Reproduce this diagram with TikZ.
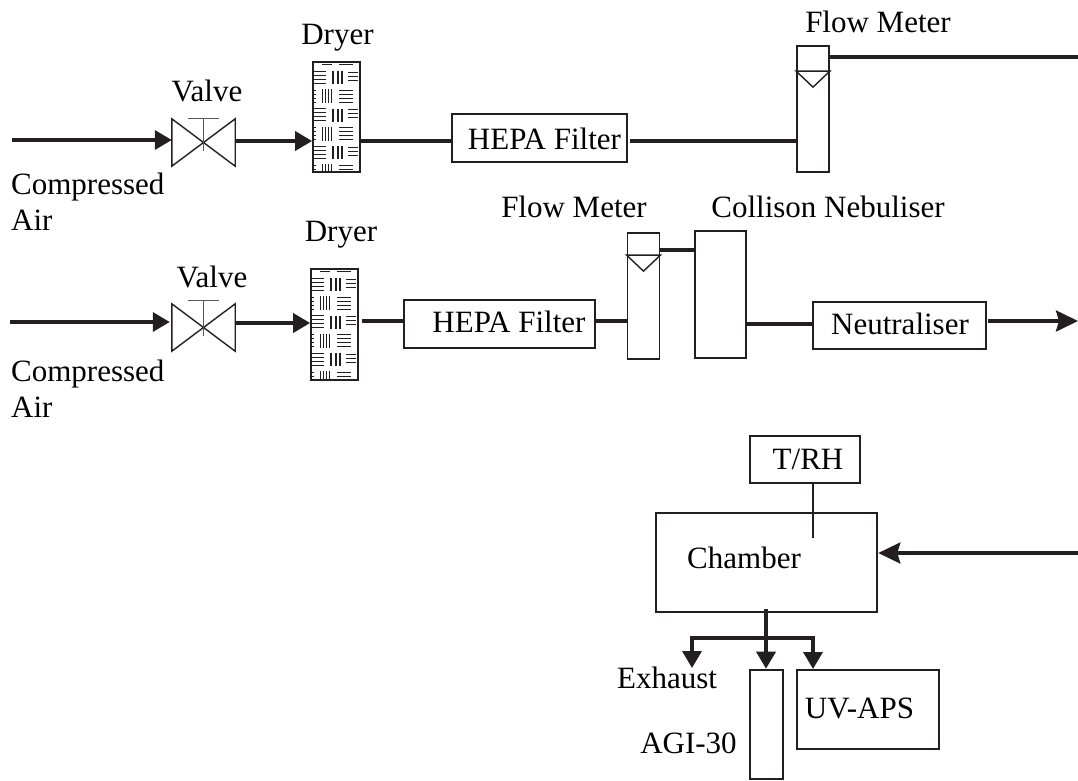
\documentclass[tikz,border=0pt]{standalone}
\usepackage{fontspec}
\setmainfont{Liberation Serif}
\usepackage{tikz}
\usetikzlibrary{arrows.meta}
\definecolor{ink}{HTML}{231F20}
\tikzset{
  label/.style={font=\fontsize{31}{31}\selectfont,text=black,inner sep=0pt,anchor=base},
  leftlabel/.style={label,anchor=base west},
  unit/.style={draw=ink,line width=1.7pt,inner sep=0pt},
  heavy unit/.style={draw=ink,line width=2.6pt,inner sep=0pt},
  pipe/.style={draw=ink,line width=3.5pt},
  feed/.style={pipe,-{Triangle[length=17pt,width=19pt]}},
  swept feed/.style={pipe,-{Stealth[length=22pt,width=21pt,inset=3pt]}},
  thin line/.style={draw=ink,line width=1.4pt},
  stem/.style={draw=ink!75,line width=1.2pt}
}
% valve body and hand wheel on an empty node
\newcommand{\valvebody}[2]{
  \draw[thin line,line join=miter] (#1.north west) -- (#1.south east) -- (#1.north east) -- (#1.south west) -- cycle;
  \draw[stem] ([xshift=-15.5pt,yshift=#2]#1.north) -- ([xshift=15.5pt,yshift=#2]#1.north);
  \draw[stem] ([yshift=#2]#1.north) -- ([yshift=-8pt]#1.center);
}
% float inside a flow meter
\newcommand{\floatmark}[2]{
  \draw[thin line] ([yshift=-#2]#1.north west) -- ([yshift=-#2]#1.north east)
    -- ([yshift=-#2-16pt]#1.north) -- cycle;
}
% bar chart filling of a dryer
\newcommand{\dryerbars}[1]{
  \begin{scope}[shift={(#1.north west)},line width=1.2pt,draw=ink]
    \clip (0,0) rectangle (47,110);
    \draw (10,3) -- (20,3) (27,3) -- (41,3);
    \foreach \r in {0,37.5,75} {
      \foreach \h in {10,14,18,22} \draw (1,\r+\h) -- (14,\r+\h);
      \foreach \v in {21,25.5,30} \draw[line width=1.8pt] (\v,\r+10) -- (\v,\r+23);
      \foreach \h in {11,15,19} \draw (36,\r+\h) -- (46,\r+\h);
      \foreach \h in {29,33,37,41} \draw (1,\r+\h) -- (4,\r+\h);
      \foreach \v in {10,13,16,19} \draw (\v,\r+28) -- (\v,\r+42);
      \foreach \h in {29,33,37,41} \draw (27,\r+\h) -- (41,\r+\h);
    }
  \end{scope}
}
\begin{document}
\begin{tikzpicture}[x=1pt,y=-1pt]
  \useasboundingbox (0,0) rectangle (1078,780);

  \coordinate (in1) at (12,140);
  \coordinate (in2) at (10,322);
  \coordinate (row1) at (0,141);
  \coordinate (row2) at (0,323);
  \coordinate (out1) at (1078,57);
  \coordinate (out2) at (1078,321);
  \coordinate (back) at (1078,553);
  \coordinate (split) at (766,638);

  % upper air line
  \node[minimum width=63pt,minimum height=47pt,inner sep=0pt] (valve1) at (203.5,142.5) {};
  \node[unit,minimum width=47pt,minimum height=110pt] (dryer1) at (336.5,117) {};
  \node[unit,minimum width=175pt,minimum height=48pt] (filter1) at (539.5,138) {};
  \node[unit,minimum width=32pt,minimum height=126pt] (meter1) at (813,109) {};
  \valvebody{valve1}{0pt}
  \dryerbars{dryer1}
  \floatmark{meter1}{26pt}
  \draw[feed] (in1) -- (in1 -| valve1.west);
  \draw[feed] (valve1.east |- row1) -- (dryer1.west |- row1);
  \draw[pipe] (dryer1.east |- row1) -- (filter1.west |- row1);
  \draw[pipe,shorten <=2pt] (filter1.east |- row1) -- (meter1.west |- row1);
  \draw[pipe] (meter1.east |- out1) -- (out1);

  % lower air line
  \node[minimum width=63pt,minimum height=47pt,inner sep=0pt] (valve2) at (203.5,327.5) {};
  \node[unit,minimum width=47pt,minimum height=111pt] (dryer2) at (334.5,324.5) {};
  \node[unit,minimum width=191pt,minimum height=48pt] (filter2) at (499.5,324) {};
  \node[unit,minimum width=32pt,minimum height=126pt] (meter2) at (643.5,296) {};
  \node[unit,minimum width=51pt,minimum height=127pt] (nebuliser) at (720.5,294.5) {};
  \node[unit,minimum width=173pt,minimum height=47pt] (neutraliser) at (899.5,325.5) {};
  \valvebody{valve2}{3pt}
  \dryerbars{dryer2}
  \floatmark{meter2}{23pt}
  \draw[feed,shorten >=2pt] (in2) -- (in2 -| valve2.west);
  \draw[feed] (valve2.east |- row2) -- (dryer2.west |- row2);
  \draw[pipe,shorten <=3pt] (dryer2.east |- 0,321) -- (filter2.west |- 0,321);
  \draw[pipe] (filter2.east |- 0,321) -- (meter2.west |- 0,321);
  \draw[pipe] (meter2.east |- 0,250) -- (nebuliser.west |- 0,250);
  \draw[pipe] (nebuliser.east |- 0,324) -- (neutraliser.west |- 0,324);
  \draw[swept feed,shorten <=1pt] (neutraliser.east |- out2) -- (out2);

  % chamber and samplers
  \node[unit,minimum width=110pt,minimum height=47pt] (sensor) at (805,459.5) {};
  \node[heavy unit,minimum width=221pt,minimum height=99pt] (chamber) at (766.5,562.5) {};
  \node[heavy unit,minimum width=33pt,minimum height=109pt] (agi) at (766.5,724.5) {};
  \node[heavy unit,minimum width=142pt,minimum height=79pt] (aps) at (868,709.5) {};
  \coordinate (exhaust) at (692,668);
  \coordinate (sensorend) at (813,538);
  \draw[thin line] (sensor.south -| sensorend) -- (sensorend);
  \draw[swept feed] (back) -- (chamber.east |- back);
  \draw[pipe,shorten <=-4pt] (chamber.south -| split) -- (split);
  \draw[feed] (split) -- (split |- agi.north);
  \draw[feed,line join=miter] (split) -- (exhaust |- split) -- (exhaust);
  \draw[feed,line join=miter] (split) -- (813,638) -- (813,669);

  % labels
  \node[label] (lvalve1) at (207,101) {Valve};
  \node[label] (ldryer1) at (337.5,44) {Dryer};
  \node[label] (lmeter1) at (878,32) {Flow Meter};
  \node[leftlabel] (lair1) at (11,194) {Compressed};
  \node[leftlabel] (lair1b) at (11,230) {Air};
  \node[label] (lfilter1) at (544.5,149) {HEPA Filter};
  \node[label] (lvalve2) at (212,287) {Valve};
  \node[label] (ldryer2) at (341,241) {Dryer};
  \node[label] (lmeter2) at (574,217) {Flow Meter};
  \node[label] (lnebuliser) at (828,217) {Collison Nebuliser};
  \node[leftlabel] (lair2) at (11,381) {Compressed};
  \node[leftlabel] (lair2b) at (11,417) {Air};
  \node[label] (lfilter2) at (509,332) {HEPA Filter};
  \node[label] (lneutraliser) at (900,334) {Neutraliser};
  \node[label] (lsensor) at (808,469) {T/RH};
  \node[label] (lchamber) at (744,568) {Chamber};
  \node[label] (lexhaust) at (667,688) {Exhaust};
  \node[label] (lagi) at (688.5,753) {AGI-30};
  \node[label] (laps) at (859.5,718) {UV-APS};
\end{tikzpicture}
\end{document}
